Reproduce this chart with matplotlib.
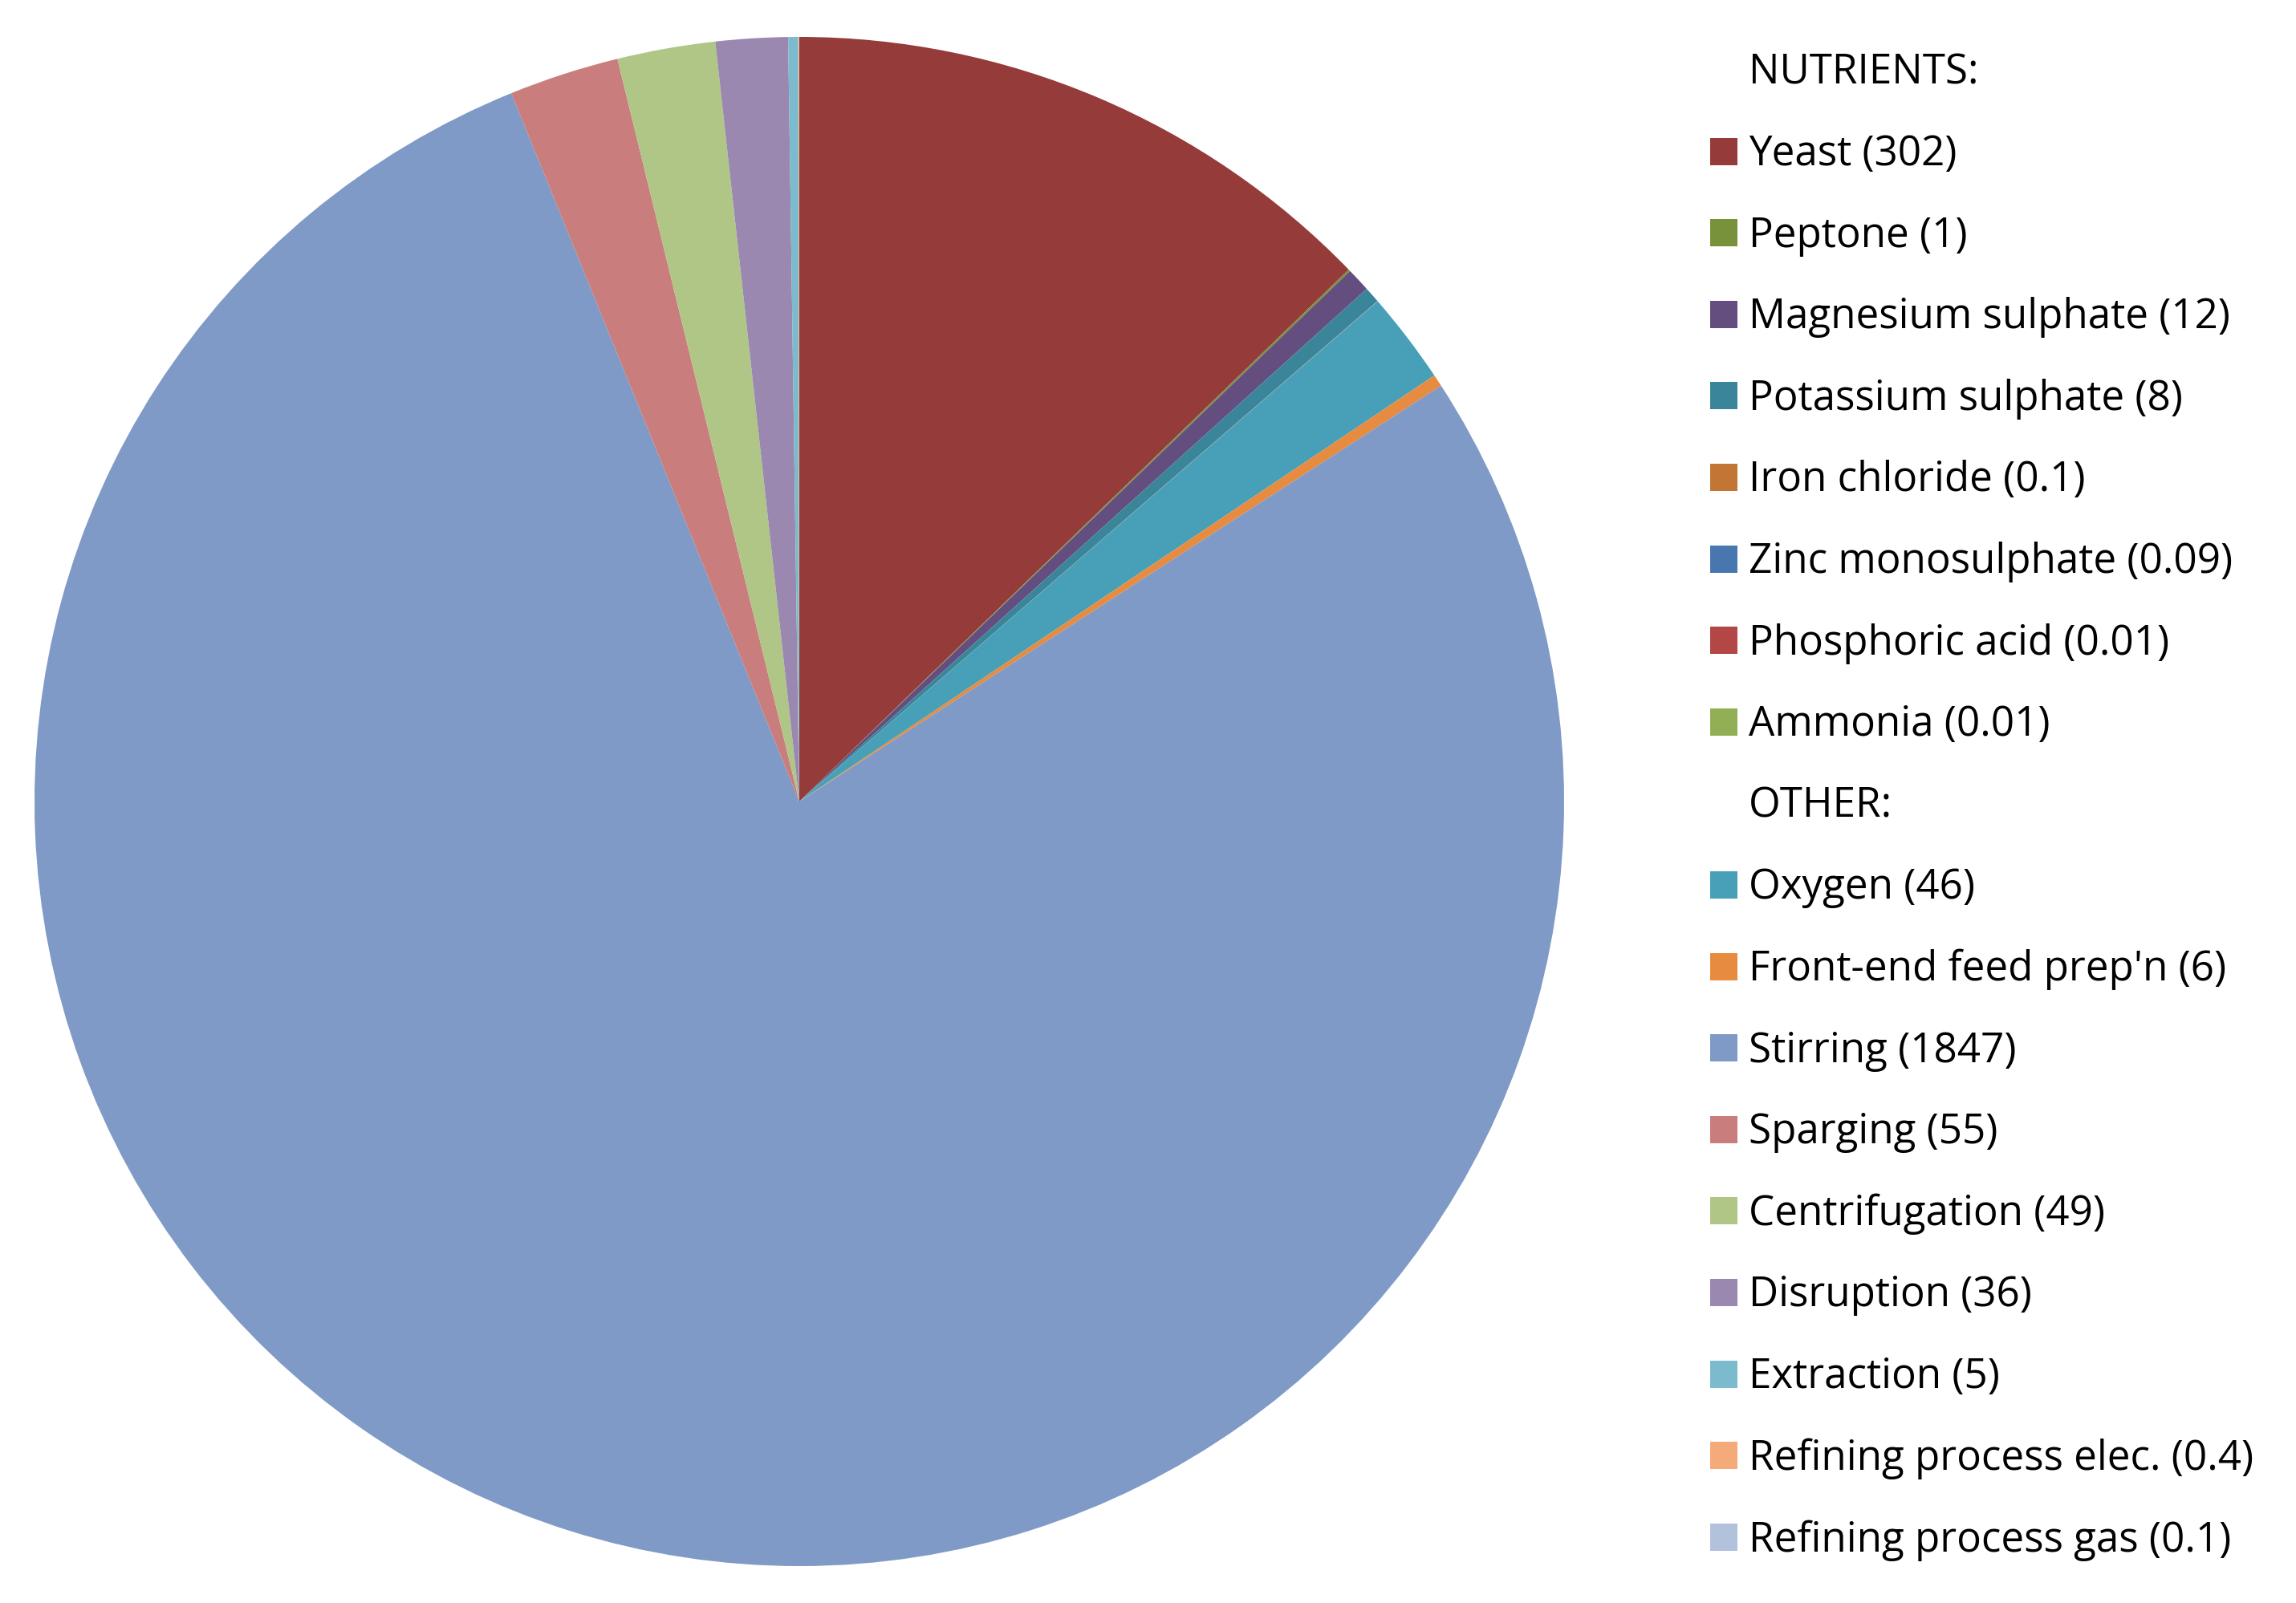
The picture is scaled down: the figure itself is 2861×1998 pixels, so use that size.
import matplotlib
matplotlib.use("Agg")
import matplotlib.pyplot as plt
from matplotlib.patches import Rectangle

plt.rcParams['font.family'] = ['Open Sans', 'DejaVu Sans']

labels = ["Yeast", "Peptone", "Magnesium sulphate", "Potassium sulphate",
          "Iron chloride", "Zinc monosulphate", "Phosphoric acid", "Ammonia",
          "Oxygen", "Front-end feed prep'n", "Stirring", "Sparging",
          "Centrifugation", "Disruption", "Extraction",
          "Refining process elec.", "Refining process gas"]
values = [302, 1, 12, 8, 0.1, 0.09, 0.01, 0.01,
          46, 6, 1847, 55, 49, 36, 5, 0.4, 0.1]
value_text = ["302", "1", "12", "8", "0.1", "0.09", "0.01", "0.01",
              "46", "6", "1847", "55", "49", "36", "5", "0.4", "0.1"]
colors = ["#953B39", "#77923B", "#634E7F", "#3A8599", "#C27535", "#4877B0",
          "#B24745", "#93AF55", "#47A0B8", "#E68B3F", "#7F9AC6", "#C97D7C",
          "#AFC686", "#9A88B1", "#7CBACD", "#F4AA79", "#B2C1DC"]
n_nutrients = 8

W, H = 2861, 1999
fig = plt.figure(figsize=(W / 100, H / 100), dpi=100)

cx, cy, r = 996, 1000, 953
ax = fig.add_axes([(cx - r) / W, (H - cy - r) / H, 2 * r / W, 2 * r / H])
ax.pie(values, colors=colors, startangle=90, counterclock=False,
       wedgeprops=dict(linewidth=0))
ax.set_xlim(-1, 1)
ax.set_ylim(-1, 1)
ax.axis('off')

# legend, drawn by hand with two header rows
rows = [("NUTRIENTS:", None)]
for i in range(n_nutrients):
    rows.append((f"{labels[i]} ({value_text[i]})", colors[i]))
rows.append(("OTHER:", None))
for i in range(n_nutrients, len(labels)):
    rows.append((f"{labels[i]} ({value_text[i]})", colors[i]))

y0, dy = 88, 101.6
mx, mw = 2131, 34
tx = 2179
for k, (txt, col) in enumerate(rows):
    y = y0 + k * dy
    if col is not None:
        fig.patches.append(Rectangle(((mx) / W, 1 - (y + mw / 2) / H), mw / W, mw / H,
                                     transform=fig.transFigure, color=col, lw=0))
    fig.text(tx / W, 1 - (y + 3) / H, txt, fontsize=36.8, va='center', ha='left', color='black')

fig.savefig("out.png", dpi=100)
